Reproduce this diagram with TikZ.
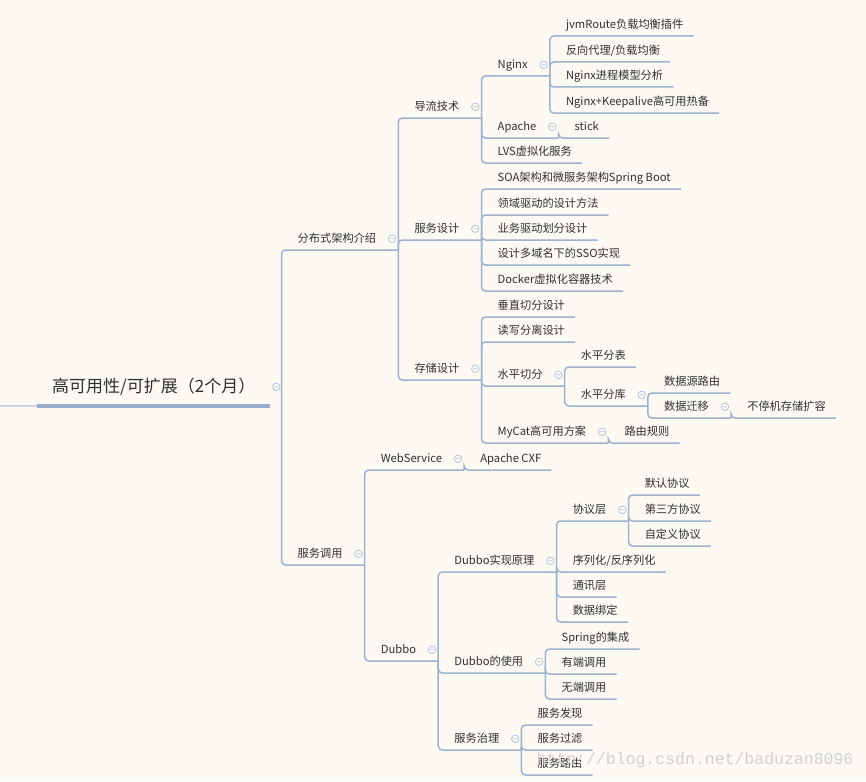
\documentclass[tikz,border=0pt]{standalone}
\usepackage{fontspec}
\setmainfont{Noto Sans CJK SC}
\newfontfamily\markfont{Liberation Mono}
\usepackage{xcolor}

\definecolor{paper}{RGB}{252,250,243}
\definecolor{ink}{RGB}{48,48,48}
\definecolor{branchline}{RGB}{157,177,208}
\definecolor{rootbar}{RGB}{152,173,203}
\definecolor{inletline}{RGB}{200,213,232}
\definecolor{foldring}{RGB}{182,196,218}

\tikzset{
  topic/.style={anchor=south west,font=\fontsize{11.2}{13}\selectfont,text=ink,
    inner xsep=0pt,inner ysep=3.5pt,text height=9pt,text depth=3.5pt,
    execute at begin node={\hspace*{16pt}}},
  leaf/.style={topic,execute at end node={\hspace*{10pt}}},
  fold/.style={draw=foldring,fill=paper,line width=0.8pt},
  branch/.style={topic,execute at end node={\hspace*{22pt}},
    path picture={\draw[fold] ([xshift=-6pt,yshift=11pt]path picture bounding box.south east)
      circle (3.8pt) ++(-2pt,0) -- ++(4pt,0);}},
  rootnode/.style={anchor=south west,font=\fontsize{17}{19}\selectfont,text=ink,
    inner xsep=0pt,inner ysep=9.5pt,text height=12pt,text depth=4pt,
    execute at begin node={\hspace*{15pt}},execute at end node={\hspace*{26pt}},
    path picture={\draw[fold] ([xshift=-5pt,yshift=19pt]path picture bounding box.south east)
      circle (3.8pt) ++(-2pt,0) -- ++(4pt,0);}},
  link/.style={draw=branchline,line width=1.5pt,rounded corners=4pt},
  watermark/.style={font=\markfont\fontsize{16.5}{18}\selectfont,text=black!18,inner sep=0pt}
}

\begin{document}
\begin{tikzpicture}[x=1pt,y=-1pt]
\useasboundingbox[fill=paper] (0,0) rectangle (866,781);

% root
\node[rootnode] (root) at (37,406) {高可用性/可扩展（2个月）};
\coordinate (inlet) at (0,406);
\draw[draw=inletline,line width=1.5pt] (inlet) -- (root.south west);
\draw[draw=rootbar,line width=3.5pt] (root.south west) -- ([xshift=-12pt]root.south east);

% first level
\node[branch] (distarch) at (root.south east |- 0,250) {分布式架构介绍};
\node[branch] (svccall) at (root.south east |- 0,565) {服务调用};

% 分布式架构介绍
\node[branch] (traffic) at (distarch.south east |- 0,118) {导流技术};
\node[branch] (svcdesign) at (distarch.south east |- 0,240) {服务设计};
\node[branch] (storage) at (distarch.south east |- 0,380) {存储设计};

\node[branch] (nginx) at (traffic.south east |- 0,76) {Nginx};
\node[branch] (apache) at (traffic.south east |- 0,138) {Apache};
\node[leaf] (lvs) at (traffic.south east |- 0,163) {LVS虚拟化服务};

\node[leaf] (jvmroute) at (nginx.south east |- 0,36) {jvmRoute负载均衡插件};
\node[leaf] (proxy) at (nginx.south east |- 0,62) {反向代理/负载均衡};
\node[leaf] (procmodel) at (nginx.south east |- 0,87) {Nginx进程模型分析};
\node[leaf] (keepalive) at (nginx.south east |- 0,113) {Nginx+Keepalive高可用热备};
\node[leaf] (stick) at (apache.south east) {stick};

\node[leaf] (soa) at (svcdesign.south east |- 0,189) {SOA架构和微服务架构Spring Boot};
\node[leaf] (ddd) at (svcdesign.south east |- 0,215) {领域驱动的设计方法};
\node[leaf] (bizsplit) at (svcdesign.south east |- 0,240) {业务驱动划分设计};
\node[leaf] (sso) at (svcdesign.south east |- 0,265) {设计多域名下的SSO实现};
\node[leaf] (docker) at (svcdesign.south east |- 0,291) {Docker虚拟化容器技术};

\node[leaf] (vsplit) at (storage.south east |- 0,317) {垂直切分设计};
\node[leaf] (rwsplit) at (storage.south east |- 0,342) {读写分离设计};
\node[branch] (hsplit) at (storage.south east |- 0,386) {水平切分};
\node[branch] (mycat) at (storage.south east |- 0,443) {MyCat高可用方案};
\node[leaf] (routerule) at (mycat.south east) {路由规则};

\node[leaf] (htable) at (hsplit.south east |- 0,367) {水平分表};
\node[branch] (hdb) at (hsplit.south east |- 0,406) {水平分库};
\node[leaf] (dsroute) at (hdb.south east |- 0,393) {数据源路由};
\node[branch] (migrate) at (hdb.south east |- 0,418) {数据迁移};
\node[leaf] (scaleout) at (migrate.south east) {不停机存储扩容};

% 服务调用
\node[branch] (websvc) at (svccall.south east |- 0,470) {WebService};
\node[leaf] (cxf) at (websvc.south east) {Apache CXF};
\node[branch] (dubbo) at (svccall.south east |- 0,661) {Dubbo};

\node[branch] (principle) at (dubbo.south east |- 0,572) {Dubbo实现原理};
\node[branch] (usage) at (dubbo.south east |- 0,673) {Dubbo的使用};
\node[branch] (governance) at (dubbo.south east |- 0,750) {服务治理};

\node[branch] (protocol) at (principle.south east |- 0,521) {协议层};
\node[leaf] (serial) at (principle.south east |- 0,572) {序列化/反序列化};
\node[leaf] (transport) at (principle.south east |- 0,597) {通讯层};
\node[leaf] (binding) at (principle.south east |- 0,622) {数据绑定};

\node[leaf] (defproto) at (protocol.south east |- 0,495) {默认协议};
\node[leaf] (thirdproto) at (protocol.south east |- 0,521) {第三方协议};
\node[leaf] (customproto) at (protocol.south east |- 0,546) {自定义协议};

\node[leaf] (springint) at (usage.south east |- 0,649) {Spring的集成};
\node[leaf] (refcall) at (usage.south east |- 0,674) {有端调用};
\node[leaf] (norefcall) at (usage.south east |- 0,699) {无端调用};

\node[leaf] (discovery) at (governance.south east |- 0,725) {服务发现};
\node[leaf] (filtering) at (governance.south east |- 0,750) {服务过滤};
\node[leaf] (routing) at (governance.south east |- 0,775) {服务路由};

% connectors
\foreach \p/\c in {root/distarch,root/svccall,
    distarch/traffic,distarch/svcdesign,distarch/storage,
    traffic/nginx,traffic/apache,traffic/lvs,
    nginx/jvmroute,nginx/proxy,nginx/procmodel,nginx/keepalive,apache/stick,
    svcdesign/soa,svcdesign/ddd,svcdesign/bizsplit,svcdesign/sso,svcdesign/docker,
    storage/vsplit,storage/rwsplit,storage/hsplit,storage/mycat,mycat/routerule,
    hsplit/htable,hsplit/hdb,hdb/dsroute,hdb/migrate,migrate/scaleout,
    svccall/websvc,svccall/dubbo,websvc/cxf,
    dubbo/principle,dubbo/usage,dubbo/governance,
    principle/protocol,principle/serial,principle/transport,principle/binding,
    protocol/defproto,protocol/thirdproto,protocol/customproto,
    usage/springint,usage/refcall,usage/norefcall,
    governance/discovery,governance/filtering,governance/routing}
  \draw[link] (\p.south east) |- (\c.south east);

\node[watermark] (wmark) at (695,760) {http://blog.csdn.net/baduzan8096};
\end{tikzpicture}
\end{document}
